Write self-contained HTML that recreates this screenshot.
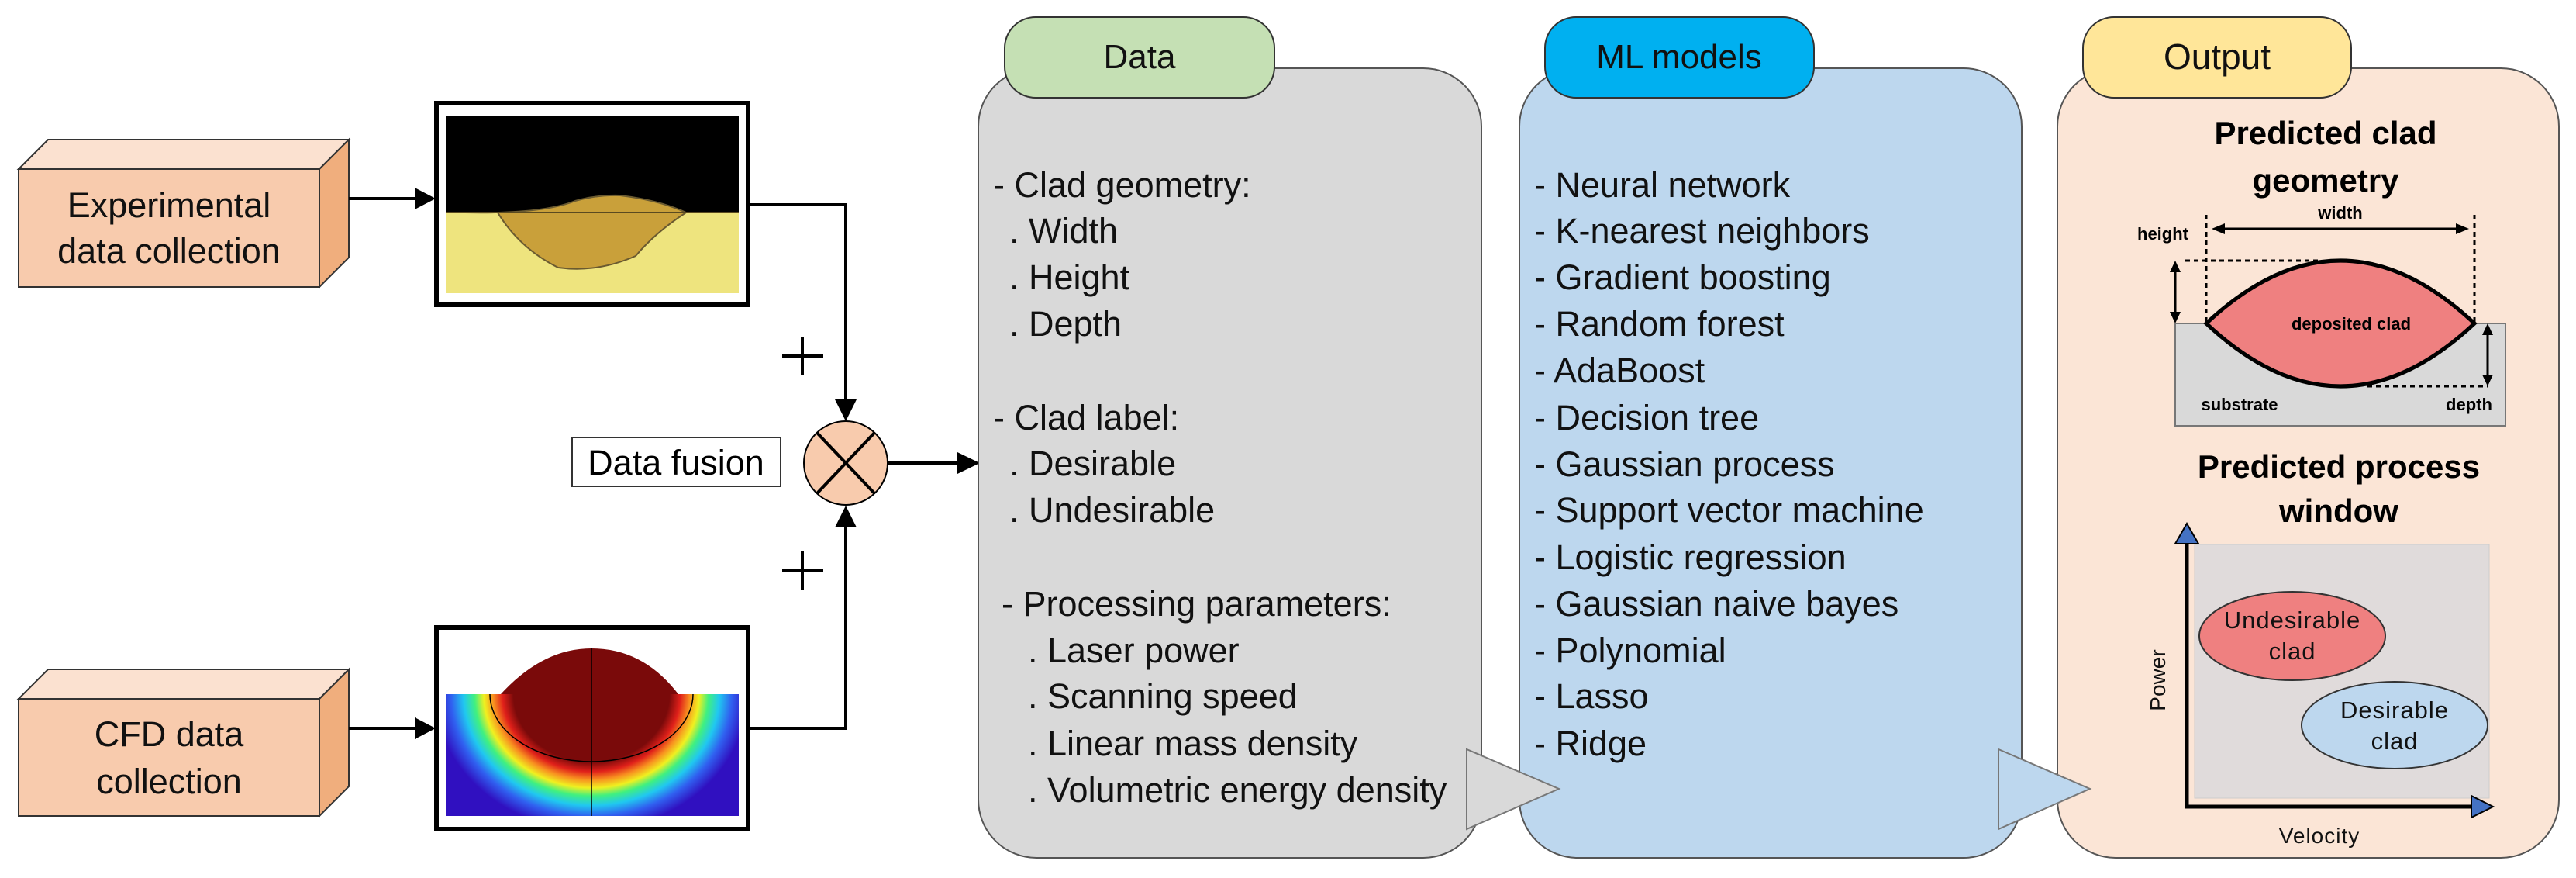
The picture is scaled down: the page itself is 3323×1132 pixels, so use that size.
<!DOCTYPE html>
<html><head><meta charset="utf-8"><style>html,body{margin:0;padding:0;background:#fff}svg{display:block}text{font-family:"Liberation Sans",sans-serif}</style></head>
<body>
<svg width="3323" height="1132" viewBox="0 0 3323 1132" xmlns="http://www.w3.org/2000/svg">
<defs>
<radialGradient id="cfd" cx="763" cy="895" r="175" gradientUnits="userSpaceOnUse" gradientTransform="translate(763 895) scale(1.15 1) translate(-763 -895)">
<stop offset="0" stop-color="#7a0a0a"/><stop offset="0.5" stop-color="#7a0a0a"/><stop offset="0.57" stop-color="#e0201a"/><stop offset="0.63" stop-color="#f89020"/><stop offset="0.69" stop-color="#f0f020"/><stop offset="0.75" stop-color="#40f080"/><stop offset="0.82" stop-color="#20c8f0"/><stop offset="0.9" stop-color="#3060f0"/><stop offset="1" stop-color="#3010c0"/>
</radialGradient>
</defs>
<!-- left boxes -->
<g stroke="#333" stroke-width="2">
<polygon points="24,218 62,180 450,180 412,218" fill="#fbe1d0"/>
<polygon points="412,218 450,180 450,332 412,370" fill="#f0ae7d"/>
<rect x="24" y="218" width="388" height="152" fill="#f8cbad"/>
<polygon points="24,901 62,863 450,863 412,901" fill="#fbe1d0"/>
<polygon points="412,901 450,863 450,1014 412,1052" fill="#f0ae7d"/>
<rect x="24" y="901" width="388" height="151" fill="#f8cbad"/>
</g>
<g font-size="45" text-anchor="middle" fill="#111">
<text x="218" y="280">Experimental</text><text x="218" y="339">data collection</text>
<text x="218" y="962">CFD data</text><text x="218" y="1023">collection</text>
</g>
<!-- photo 1 -->
<rect x="563" y="133" width="402" height="260" fill="#fff" stroke="#000" stroke-width="6"/>
<rect x="575" y="149" width="378" height="229" fill="#eee47e"/>
<rect x="575" y="149" width="378" height="125" fill="#000"/>
<path d="M600,274 Q700,276 742,259 Q770,251 800,252 Q850,258 885,274 Q845,300 820,330 Q770,352 720,345 Q670,320 642,274 Z" fill="#c9a03a" stroke="#6a5a30" stroke-width="2"/>
<path d="M575,274 L953,274" stroke="#5a4a20" stroke-width="2"/>
<!-- photo 2 -->
<rect x="563" y="809" width="402" height="260" fill="#fff" stroke="#000" stroke-width="6"/>
<rect x="575" y="895" width="378" height="157" fill="url(#cfd)"/>
<path d="M646,895 Q700,836 763,836 Q830,836 875,895 Z" fill="#7a0a0a"/>
<path d="M632,895 A131 87 0 0 0 894,895" fill="none" stroke="#000" stroke-width="1.5"/>
<line x1="763" y1="836" x2="763" y2="1052" stroke="#000" stroke-width="1.5"/>
<!-- connectors -->
<g stroke="#000" stroke-width="4" fill="none">
<line x1="450" y1="256" x2="535" y2="256"/>
<line x1="450" y1="939" x2="535" y2="939"/>
<polyline points="966,264 1091,264 1091,515"/>
<polyline points="966,939 1091,939 1091,680"/>
<line x1="1113" y1="597" x2="1235" y2="597"/>
</g>
<g fill="#000">
<polygon points="535,242 562,256 535,270"/>
<polygon points="535,925 562,939 535,953"/>
<polygon points="1077,515 1091,543 1105,515"/>
<polygon points="1077,680 1091,652 1105,680"/>
<polygon points="1235,583 1264,597 1235,611"/>
</g>
<circle cx="1091" cy="597" r="54" fill="#f8cbad" stroke="#000" stroke-width="2"/>
<g stroke="#000" stroke-width="4"><line x1="1054" y1="558" x2="1128" y2="636"/><line x1="1128" y1="558" x2="1054" y2="636"/></g>
<g stroke="#000" stroke-width="4"><line x1="1009" y1="459" x2="1062" y2="459"/><line x1="1035" y1="434" x2="1035" y2="484"/><line x1="1009" y1="736" x2="1062" y2="736"/><line x1="1035" y1="711" x2="1035" y2="761"/></g>
<rect x="738" y="564" width="269" height="63" fill="#fff" stroke="#333" stroke-width="2"/>
<text x="872" y="612" font-size="45" text-anchor="middle">Data fusion</text>
<!-- panels -->
<rect x="1262" y="88" width="649" height="1018" rx="75" fill="#d9d9d9" stroke="#555" stroke-width="2"/>
<rect x="1960" y="88" width="648" height="1018" rx="75" fill="#bdd7ee" stroke="#555" stroke-width="2"/>
<rect x="2654" y="88" width="647" height="1018" rx="75" fill="#fbe5d6" stroke="#555" stroke-width="2"/>
<rect x="1296" y="22" width="348" height="104" rx="40" fill="#c5e0b4" stroke="#333" stroke-width="2"/>
<rect x="1993" y="22" width="347" height="104" rx="40" fill="#00b0f0" stroke="#333" stroke-width="2"/>
<rect x="2687" y="22" width="346" height="104" rx="40" fill="#ffe699" stroke="#333" stroke-width="2"/>
<polygon points="1892,966 2011,1017 1892,1069" fill="#d9d9d9" stroke="#777" stroke-width="2"/>
<polygon points="2578,966 2696,1017 2578,1069" fill="#bdd7ee" stroke="#777" stroke-width="2"/>
<g font-size="44" text-anchor="middle" fill="#111">
<text x="1470" y="88">Data</text><text x="2166" y="88">ML models</text><text x="2860" y="89" font-size="46">Output</text>
</g>
<g font-size="45" fill="#111">
<text x="1281" y="254">- Clad geometry:</text>
<text x="1302" y="313">. Width</text>
<text x="1302" y="373">. Height</text>
<text x="1302" y="433">. Depth</text>
<text x="1281" y="554">- Clad label:</text>
<text x="1302" y="613">. Desirable</text>
<text x="1302" y="673">. Undesirable</text>
<text x="1292" y="794">- Processing parameters:</text>
<text x="1326" y="854">. Laser power</text>
<text x="1326" y="913">. Scanning speed</text>
<text x="1326" y="974">. Linear mass density</text>
<text x="1326" y="1034">. Volumetric energy density</text>
</g>
<g font-size="45" fill="#111">
<text x="1979" y="254">- Neural network</text>
<text x="1979" y="313">- K-nearest neighbors</text>
<text x="1979" y="373">- Gradient boosting</text>
<text x="1979" y="433">- Random forest</text>
<text x="1979" y="493">- AdaBoost</text>
<text x="1979" y="554">- Decision tree</text>
<text x="1979" y="614">- Gaussian process</text>
<text x="1979" y="673">- Support vector machine</text>
<text x="1979" y="734">- Logistic regression</text>
<text x="1979" y="794">- Gaussian naive bayes</text>
<text x="1979" y="854">- Polynomial</text>
<text x="1979" y="913">- Lasso</text>
<text x="1979" y="974">- Ridge</text>
</g>
<!-- output contents -->
<g font-size="42" font-weight="bold" text-anchor="middle" fill="#000">
<text x="3000" y="186">Predicted clad</text><text x="3000" y="247">geometry</text>
<text x="3017" y="616">Predicted process</text><text x="3017" y="673">window</text>
</g>
<rect x="2806" y="417" width="426" height="132" fill="#d9d9d9" stroke="#777" stroke-width="2"/>
<path d="M2846,417 Q3019,255 3192,417 Q3019,579 2846,417 Z" fill="#ef8080" stroke="#000" stroke-width="5"/>
<g stroke="#000" stroke-width="3" stroke-dasharray="6,5" fill="none">
<line x1="2846" y1="277" x2="2846" y2="417"/><line x1="3192" y1="277" x2="3192" y2="417"/>
<line x1="2819" y1="336" x2="2992" y2="336"/><line x1="3054" y1="498" x2="3209" y2="498"/>
</g>
<g stroke="#000" stroke-width="3"><line x1="2865" y1="295" x2="3172" y2="295"/><line x1="2806" y1="350" x2="2806" y2="403"/><line x1="3209" y1="431" x2="3209" y2="484"/></g>
<g fill="#000">
<polygon points="2853,295 2870,288 2870,302"/><polygon points="3185,295 3168,288 3168,302"/>
<polygon points="2806,336 2799,351 2813,351"/><polygon points="2806,417 2799,402 2813,402"/>
<polygon points="3209,417 3202,432 3216,432"/><polygon points="3209,498 3202,483 3216,483"/>
</g>
<g font-size="22" font-weight="bold" text-anchor="middle" fill="#000">
<text x="3019" y="282">width</text><text x="2790" y="309">height</text>
<text x="3033" y="425">deposited clad</text><text x="2889" y="529">substrate</text><text x="3185" y="529">depth</text>
</g>
<rect x="2831" y="702" width="380" height="327" fill="#e0dbdb" stroke="#ccc" stroke-width="1"/>
<g stroke="#000" stroke-width="5"><line x1="2821" y1="695" x2="2821" y2="1040"/><line x1="2819" y1="1040" x2="3192" y2="1040"/></g>
<polygon points="2806,701 2821,675 2836,701" fill="#4472c4" stroke="#000" stroke-width="2"/>
<polygon points="3188,1026 3216,1040 3188,1054" fill="#4472c4" stroke="#000" stroke-width="2"/>
<ellipse cx="2957" cy="820" rx="120" ry="57" fill="#ef8080" stroke="#333" stroke-width="2"/>
<ellipse cx="3089" cy="935" rx="120" ry="56" fill="#bdd7ee" stroke="#333" stroke-width="2"/>
<g font-size="31" text-anchor="middle" fill="#111" letter-spacing="1">
<text x="2957" y="810">Undesirable</text><text x="2957" y="850">clad</text>
<text x="3089" y="926">Desirable</text><text x="3089" y="966">clad</text>
<text x="2992" y="1087" font-size="28">Velocity</text>
</g>
<text x="0" y="0" font-size="28" text-anchor="middle" fill="#111" transform="translate(2793 877) rotate(-90)">Power</text>
</svg>
</body></html>
